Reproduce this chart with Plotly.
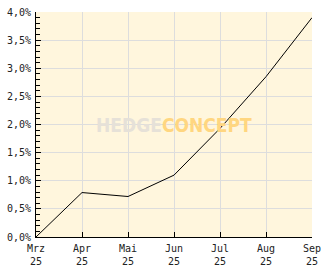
import plotly.graph_objects as go

months = ["Mrz<br>25", "Apr<br>25", "Mai<br>25", "Jun<br>25", "Jul<br>25", "Aug<br>25", "Sep<br>25"]
values = [0.0, 0.79, 0.72, 1.1, 1.93, 2.85, 3.9]
y_ticks = [0, 0.5, 1.0, 1.5, 2.0, 2.5, 3.0, 3.5, 4.0]
y_labels = ["0,0%", "0,5%", "1,0%", "1,5%", "2,0%", "2,5%", "3,0%", "3,5%", "4,0%"]

fig = go.Figure()
fig.add_trace(go.Scatter(x=months, y=values, mode="lines",
                         line=dict(color="black", width=1), hoverinfo="skip"))

font = dict(family="DejaVu Sans Mono", size=10, color="#222222")
fig.update_layout(
    width=332, height=269,
    margin=dict(l=36, r=20, t=12, b=32, autoexpand=False),
    paper_bgcolor="white", plot_bgcolor="#FFF6DD",
    showlegend=False,
    font=font,
    xaxis=dict(type="category", range=[0, 6], showgrid=True, gridcolor="#DDDDDD", gridwidth=1,
               ticks="inside", ticklen=5, tickcolor="black", showline=True, linecolor="black",
               linewidth=1, zeroline=False, tickfont=font, fixedrange=True, automargin=False,
               ticklabelstandoff=2),
    yaxis=dict(range=[0, 4], tickvals=y_ticks, ticktext=y_labels, showgrid=True,
               gridcolor="#DDDDDD", gridwidth=1, ticks="inside", ticklen=5, tickcolor="black",
               showline=True, linecolor="black", linewidth=1, zeroline=False, tickfont=font,
               ticklabelstandoff=2, automargin=False,
               minor=dict(dtick=0.1, ticks="inside", ticklen=4, tickcolor="black", showgrid=False)),
    annotations=[dict(x=0.5, y=0.5, xref="paper", yref="paper", showarrow=False,
                      text="<b><span style='color:#E6E1D8'>HEDGE</span>"
                           "<span style='color:#FFD680'>CONCEPT</span></b>",
                      font=dict(family="DejaVu Sans Condensed", size=19))],
)
fig.write_html("out.html")
